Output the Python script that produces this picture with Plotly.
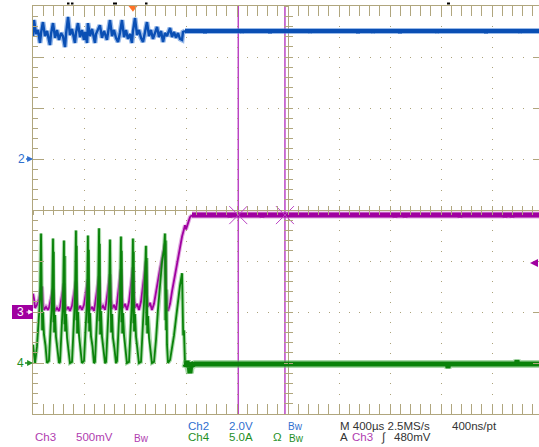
import numpy as np
import plotly.graph_objects as go

# ---- acquisition / channel settings ----
TIME_PER_DIV = 400.0            # µs per division (M 400µs)
SAMPLE_RATE = "2.5MS/s"
RESOLUTION = "400ns/pt"
SCREEN_DIVS = 506 / 51          # horizontal divisions visible on the capture
CH2_SCALE, CH2_POS = 2.0, 1.0   # V/div, trace position in divisions
CH3_SCALE, CH3_POS = 0.5, -2.0  # V/div
CH4_SCALE, CH4_POS = 5.0, -3.0  # A/div
TRIG_LEVEL = 0.48               # V, trigger on Ch3 rising
TRIG_T = -1216                  # µs, horizontal trigger marker
CURSOR_T = [-390, -24]          # µs, vertical cursors

# ---- Ch2 (V): noisy during the start-up burst, then settled ----
ch2_burst_t = [-2000, -1992, -1976, -1961, -1945, -1937, -1922, -1906, -1890, -1867,
               -1859, -1843, -1827, -1812, -1796, -1780, -1765, -1749, -1741, -1725,
               -1710, -1694, -1671, -1663, -1647, -1631, -1616, -1600, -1592, -1576,
               -1569, -1553, -1537, -1514, -1506, -1490, -1475, -1459, -1443, -1420,
               -1412, -1396, -1380, -1365, -1349, -1333, -1318, -1302, -1286, -1271,
               -1255, -1239, -1224, -1216, -1200, -1184, -1169, -1153, -1137, -1122,
               -1106, -1090, -1075, -1059, -1043, -1027, -1012, -996, -980, -965,
               -949, -933, -925, -910, -894, -878, -863, -847, -831, -824, -808]
ch2_burst_v = [4.82, 5.45, 4.90, 5.06, 4.55, 4.94, 5.37, 4.82, 5.02, 4.47,
               4.90, 5.33, 4.75, 5.06, 4.67, 4.94, 4.82, 4.39, 4.90, 5.57,
               4.86, 5.10, 4.55, 4.94, 5.33, 4.78, 5.06, 4.67, 4.98, 4.55,
               5.33, 4.82, 5.10, 4.55, 4.90, 5.06, 5.25, 4.75, 5.02, 4.67,
               4.94, 5.45, 4.82, 5.06, 4.75, 4.59, 4.94, 5.45, 4.78, 5.06,
               4.71, 4.90, 4.55, 5.02, 5.53, 4.86, 5.06, 4.75, 4.59, 4.94,
               5.37, 4.82, 5.06, 4.71, 4.94, 5.18, 4.78, 5.02, 4.59, 4.94,
               4.82, 5.06, 5.14, 4.78, 4.98, 4.75, 4.94, 4.71, 4.67, 4.98, 5.02]
ch2_flat_t = [-808, -655, -651, -647, -365, -361, -357, -145, -141, -137, 169, 173, 177,
              545, 549, 553, 663, 667, 671, 874, 878, 882, 1165, 1169, 1173,
              1549, 1553, 1557, 1816, 1820, 1824, 1969]
ch2_flat_v = [5.02, 5.02, 4.94, 5.02, 5.02, 4.95, 5.02, 5.02, 4.94, 5.02, 5.02, 4.95, 5.02,
              5.02, 4.94, 5.02, 5.02, 4.95, 5.02, 5.02, 4.94, 5.02, 5.02, 4.95, 5.02,
              5.02, 4.94, 5.02, 5.02, 4.95, 5.02, 5.02]

# ---- Ch3 (V): sawtooth bursts, then the rise to the regulated level ----
ch3_burst_t = [-2000, -1992, -1984, -1969, -1953, -1937, -1929, -1922, -1914, -1898, -1882,
               -1875, -1867, -1851, -1843, -1835, -1827, -1812, -1796,
               -1788, -1773, -1765, -1757, -1749, -1741, -1725, -1710,
               -1694, -1678, -1671, -1663, -1655, -1647, -1631, -1616,
               -1600, -1584, -1576, -1569, -1561, -1553, -1537, -1522,
               -1514, -1498, -1490, -1482, -1475, -1467, -1451, -1435,
               -1427, -1412, -1404, -1396, -1388, -1380, -1365, -1349,
               -1341, -1325, -1318, -1310, -1302, -1294, -1278, -1263,
               -1247, -1231, -1224, -1216, -1208, -1200, -1184, -1169,
               -1153, -1137, -1122, -1114, -1106, -1098, -1082, -1067,
               -1051, -1035, -1020, -1004, -988, -973, -965, -957, -949, -941,
               -925, -910, -894, -878, -863, -847, -831, -816, -808, -800, -784, -769, -753]
ch3_burst_v = [0.18, 0.13, 0.04, 0.07, 0.13, 0.23, 0.25, 0.08, 0.02, 0.05, 0.02,
               0.04, 0.09, 0.18, 0.23, 0.07, 0.01, 0.04, 0.01,
               0.05, 0.16, 0.24, 0.28, 0.09, 0.02, 0.05, 0.01,
               0.06, 0.17, 0.25, 0.30, 0.10, 0.02, 0.06, 0.02,
               0.07, 0.18, 0.25, 0.32, 0.11, 0.02, 0.05, 0.01,
               0.07, 0.21, 0.28, 0.35, 0.13, 0.03, 0.06, 0.02,
               0.08, 0.22, 0.30, 0.37, 0.13, 0.03, 0.07, 0.02,
               0.09, 0.25, 0.34, 0.42, 0.15, 0.04, 0.08, 0.02,
               0.10, 0.26, 0.35, 0.44, 0.16, 0.04, 0.08, 0.02,
               0.10, 0.27, 0.42, 0.50, 0.17, 0.05, 0.09, 0.02,
               0.08, 0.21, 0.32, 0.42, 0.52, 0.62, 0.67, 0.23, 0.05, 0.01,
               0.08, 0.20, 0.31, 0.42, 0.53, 0.64, 0.74, 0.81, 0.85, 0.81, 0.87, 0.93, 0.95]
ch3_flat_t = [-753, -459, -455, -451, -208, -204, -200, 835, 839, 843, 914, 918, 922,
              1345, 1349, 1353, 1698, 1702, 1706, 1753, 1757, 1761, 1969]
ch3_flat_v = [0.95, 0.95, 0.93, 0.95, 0.95, 0.93, 0.95, 0.95, 0.93, 0.95, 0.95, 0.93, 0.95,
              0.95, 0.93, 0.95, 0.95, 0.93, 0.95, 0.95, 0.93, 0.95, 0.95]

# ---- Ch4 (A): inductor current pulses, then idle ----
ch4_burst_t = [-2000, -1984, -1969, -1953, -1945, -1937, -1934, -1931, -1928, -1922, -1914, -1902, -1890,
               -1875, -1867, -1859, -1851, -1843, -1840, -1837, -1834, -1827, -1820, -1808, -1796,
               -1788, -1780, -1773, -1765, -1757, -1754, -1751, -1748, -1741, -1733, -1722, -1710,
               -1694, -1686, -1678, -1671, -1663, -1660, -1657, -1654, -1647, -1639, -1627, -1616,
               -1600, -1592, -1584, -1576, -1569, -1565, -1562, -1559, -1553, -1545, -1533, -1522,
               -1514, -1506, -1498, -1490, -1482, -1479, -1476, -1473, -1467, -1459, -1447, -1435,
               -1427, -1420, -1412, -1404, -1396, -1393, -1390, -1387, -1380, -1373, -1361, -1349,
               -1341, -1333, -1325, -1318, -1310, -1307, -1304, -1300, -1294, -1286, -1275, -1263,
               -1247, -1239, -1231, -1224, -1216, -1213, -1210, -1207, -1200, -1192, -1180, -1169,
               -1153, -1145, -1137, -1129, -1122, -1114, -1111, -1108, -1104, -1098, -1090, -1078, -1067,
               -1051, -1035, -1020, -1004, -988, -973, -965, -962, -959, -956, -953, -949, -941,
               -925, -910, -894, -878, -863, -847, -831, -828, -825, -822, -816, -808]
ch4_burst_a = [1.8, 0.0, 1.6, 4.4, 6.2, 12.7, 3.7, 11.3, 3.2, 5.0, 2.8, 1.7, 0.0,
               0.2, 1.7, 4.2, 6.0, 12.2, 4.0, 10.9, 3.0, 4.7, 2.6, 1.5, 0.0,
               0.1, 1.6, 4.0, 5.9, 12.0, 3.8, 10.5, 3.1, 4.8, 2.5, 1.4, 0.0,
               0.1, 1.8, 4.4, 6.4, 13.0, 4.2, 11.5, 2.9, 5.0, 2.7, 1.5, 0.0,
               0.2, 1.9, 4.3, 6.2, 12.5, 3.9, 11.1, 3.1, 4.9, 2.6, 1.6, 0.0,
               0.1, 1.7, 4.4, 6.5, 13.2, 4.1, 11.7, 2.8, 5.1, 2.6, 1.5, 0.0,
               0.1, 1.8, 4.2, 6.1, 12.1, 3.8, 10.6, 3.0, 4.8, 2.5, 1.4, 0.0,
               0.2, 1.9, 4.4, 6.3, 12.4, 4.0, 11.0, 2.9, 4.9, 2.7, 1.6, 0.0,
               0.1, 1.7, 4.2, 6.2, 12.2, 3.9, 10.9, 3.1, 4.8, 2.6, 1.5, 0.0,
               0.1, 1.6, 4.0, 5.9, 8.1, 11.5, 3.7, 10.3, 2.9, 4.6, 2.5, 1.4, 0.0,
               0.1, 2.3, 5.2, 7.6, 9.9, 11.1, 12.7, 4.2, 12.0, 3.2, 7.2, 1.8, 0.0,
               0.3, 1.3, 2.7, 4.4, 6.2, 7.6, 8.8, 3.2, 8.1, 2.7, 3.2, 0.0]
ch4_flat_t = [-808, -800, -792, -784, -776, -769, -761, -745, -730, 1251, 1255, 1259,
              1792, 1796, 1800, 1969]
ch4_flat_a = [-0.1, -0.3, 0.2, -0.4, 0.0, -1.0, 0.0, -0.2, -0.1, -0.1, -0.5, -0.1,
              -0.1, 0.3, -0.1, -0.1]

# ---- colours ----
BLUE, BLUE_HALO, BLUE_TXT = "#0a4fb4", "rgba(70,130,215,0.55)", "#2f6fcf"
PURPLE, PURPLE_HALO, PURPLE_TXT = "#a000a0", "rgba(200,100,200,0.55)", "#b03cb0"
GREEN, GREEN_HALO, GREEN_TXT = "#0a820a", "rgba(100,185,100,0.55)", "#1f8f1f"
CURSOR = "#bb44c4"
LINE = "#b0a67e"
GRID = "#aca27a"
ORANGE = "#ff7226"
BLACK = "#333333"
FONT = "Liberation Sans, Arial, sans-serif"

X_RANGE = [-5 * TIME_PER_DIV, -5 * TIME_PER_DIV + SCREEN_DIVS * TIME_PER_DIV]
CENTER_X = 5 / SCREEN_DIVS


def to_div(values, scale, pos):
    return np.asarray(values, dtype=float) / scale + pos


fig = go.Figure()

traces = [
    (ch3_burst_t, to_div(ch3_burst_v, CH3_SCALE, CH3_POS), PURPLE, PURPLE_HALO, 1.8, 4),
    (ch3_flat_t, to_div(ch3_flat_v, CH3_SCALE, CH3_POS), PURPLE, PURPLE_HALO, 5, 7),
    (ch4_burst_t, to_div(ch4_burst_a, CH4_SCALE, CH4_POS), GREEN, GREEN_HALO, 1.8, 4),
    (ch4_flat_t, to_div(ch4_flat_a, CH4_SCALE, CH4_POS), GREEN, GREEN_HALO, 5, 8),
    (ch2_burst_t, to_div(ch2_burst_v, CH2_SCALE, CH2_POS), BLUE, BLUE_HALO, 2.4, 5),
    (ch2_flat_t, to_div(ch2_flat_v, CH2_SCALE, CH2_POS), BLUE, BLUE_HALO, 4, 6),
]
for t, y, col, halo, w, hw in traces:
    fig.add_trace(go.Scatter(x=t, y=y, mode="lines", line=dict(color=halo, width=hw),
                             hoverinfo="skip", showlegend=False))
    fig.add_trace(go.Scatter(x=t, y=y, mode="lines", line=dict(color=col, width=w),
                             hoverinfo="skip", showlegend=False))

# cursor crossings on the Ch3 trace
cross_y = to_div(np.interp(CURSOR_T, ch3_flat_t, ch3_flat_v), CH3_SCALE, CH3_POS)
fig.add_trace(go.Scatter(x=CURSOR_T, y=cross_y, mode="markers",
                         marker=dict(symbol="x-thin", size=18, line=dict(width=1, color=CURSOR)),
                         hoverinfo="skip", showlegend=False))

# horizontal trigger position marker on the top edge
fig.add_trace(go.Scatter(x=[TRIG_T], y=[4 - 0.025], mode="markers", cliponaxis=False,
                         marker=dict(symbol="triangle-down", size=9, color=ORANGE),
                         hoverinfo="skip", showlegend=False))

# empty traces so the centre-tick overlay axes are laid out
for xa, ya in [("x2", "y"), ("x3", "y"), ("x", "y2"), ("x", "y3"), ("x", "y4")]:
    fig.add_trace(go.Scatter(x=[None], y=[None], xaxis=xa, yaxis=ya, showlegend=False,
                             hoverinfo="skip"))

border = dict(showline=True, linecolor=LINE, linewidth=1, ticks="inside", tickcolor=LINE,
              tickwidth=1, ticklen=10, showticklabels=False, showgrid=True, gridcolor=GRID,
              gridwidth=1, griddash="1px,9.2px", zeroline=True, zerolinecolor=LINE,
              zerolinewidth=1, fixedrange=True)
centre = dict(showline=False, showgrid=False, zeroline=False, showticklabels=False,
              tickcolor=LINE, tickwidth=1, ticklen=4, fixedrange=True)

shapes = []
for c in CURSOR_T:
    shapes.append(dict(type="line", xref="x", yref="paper", x0=c, x1=c, y0=0, y1=1,
                       line=dict(color=CURSOR, width=1.5), layer="below"))
# Ch3 position flag
shapes.append(dict(type="rect", xref="paper", yref="paper", x0=(12 - 33) / 506, x1=0,
                   y0=(CH3_POS + 4) / 8 - 7 / 408, y1=(CH3_POS + 4) / 8 + 7 / 408,
                   fillcolor=PURPLE, line=dict(width=0)))
# record-view marks above the graticule
for a, b in [(67, 69.5), (71, 73.5), (113, 117), (145, 147.5), (447, 450)]:
    shapes.append(dict(type="line", xref="paper", yref="paper", x0=(a - 33) / 506,
                       x1=(b - 33) / 506, y0=1 + 2.5 / 408, y1=1 + 2.5 / 408,
                       line=dict(color="black", width=2)))


def label(text, px, py, color, size=11.5):
    return dict(text=text, x=(px - 33) / 506, y=(414 - py) / 408, xref="paper", yref="paper",
                xanchor="left", yanchor="middle", showarrow=False,
                font=dict(color=color, size=size, family=FONT))


bw = "Bw"
annotations = [
    label("Ch2", 186, 426, BLUE_TXT),
    label(f"{CH2_SCALE:.1f}V", 227, 426, BLUE_TXT),
    label(bw, 286, 427, BLUE_TXT, 10),
    label(f"M {TIME_PER_DIV:.0f}µs {SAMPLE_RATE}", 338, 426, BLACK),
    label(RESOLUTION, 450, 426, BLACK),
    label("Ch3", 33, 437, PURPLE_TXT),
    label(f"{CH3_SCALE * 1000:.0f}mV", 74, 437, PURPLE_TXT),
    label(bw, 132, 438, PURPLE_TXT, 10),
    label("Ch4", 186, 437, GREEN_TXT),
    label(f"{CH4_SCALE:.1f}A", 227, 437, GREEN_TXT),
    label("Ω", 271, 437, GREEN_TXT),
    label(bw, 287, 438, GREEN_TXT, 10),
    label("A", 338, 437, BLACK),
    label("Ch3", 350, 437, PURPLE_TXT),
    label("∫", 379, 437, BLACK),
    label(f"{TRIG_LEVEL * 1000:.0f}mV", 392, 437, BLACK),
    # channel position markers
    dict(text="2", x=0, xref="paper", y=CH2_POS, yref="y", showarrow=True, ax=-12, ay=0,
         arrowhead=2, arrowsize=0.9, arrowwidth=1.3, arrowcolor=BLUE_TXT,
         font=dict(color=BLUE_TXT, size=12, family=FONT)),
    dict(text="4", x=0, xref="paper", y=CH4_POS, yref="y", showarrow=True, ax=-13, ay=0,
         arrowhead=2, arrowsize=0.9, arrowwidth=1.3, arrowcolor=GREEN_TXT,
         font=dict(color=GREEN_TXT, size=12, family=FONT)),
    dict(text="3", x=(20.5 - 33) / 506, xref="paper", y=CH3_POS, yref="y", showarrow=False,
         xanchor="center", yanchor="middle", font=dict(color="white", size=12, family=FONT)),
    dict(text="", x=0, xref="paper", y=CH3_POS, yref="y", showarrow=True, ax=-8, ay=0,
         arrowhead=2, arrowsize=0.8, arrowwidth=1.2, arrowcolor="white"),
    # trigger level on the right edge
    dict(text="", x=(530 - 33) / 506, xref="paper", y=CH3_POS + TRIG_LEVEL / CH3_SCALE,
         yref="y", showarrow=True, ax=10, ay=0, arrowhead=2, arrowsize=0.8, arrowwidth=2,
         arrowcolor=PURPLE),
]

fig.update_layout(
    width=539, height=447,
    margin=dict(l=33, r=0, t=6, b=33),
    paper_bgcolor="white", plot_bgcolor="white",
    showlegend=False,
    xaxis=dict(range=X_RANGE, tick0=0, dtick=TIME_PER_DIV, mirror="allticks",
               minor=dict(tick0=0, dtick=TIME_PER_DIV / 5, ticks="inside", ticklen=5,
                          tickcolor=LINE, tickwidth=1, showgrid=False), **border),
    yaxis=dict(range=[-4, 4], tick0=0, dtick=1, mirror=False,
               minor=dict(tick0=0, dtick=0.2, ticks="inside", ticklen=5,
                          tickcolor=LINE, tickwidth=1, showgrid=False), **border),
    xaxis2=dict(overlaying="x", anchor="free", position=0.5, range=X_RANGE, ticks="inside",
                tick0=0, dtick=TIME_PER_DIV / 5, **centre),
    xaxis3=dict(overlaying="x", anchor="free", position=0.5, range=X_RANGE, ticks="outside",
                tick0=0, dtick=TIME_PER_DIV / 5, **centre),
    yaxis2=dict(overlaying="y", anchor="free", position=CENTER_X, range=[-4, 4],
                ticks="inside", tick0=0, dtick=0.2, **centre),
    yaxis3=dict(overlaying="y", anchor="free", position=CENTER_X, range=[-4, 4],
                ticks="outside", tick0=0, dtick=0.2, **centre),
    yaxis4=dict(overlaying="y", anchor="free", side="right", position=1, range=[-4, 4],
                ticks="inside", tick0=0, dtick=1,
                **{**centre, "ticklen": 6}),
    shapes=shapes,
    annotations=annotations,
    font=dict(family=FONT),
)

fig.write_html("out.html")
